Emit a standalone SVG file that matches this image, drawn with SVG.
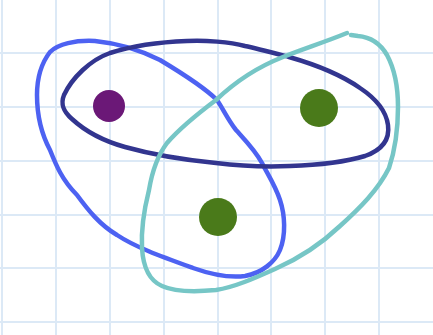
<svg xmlns="http://www.w3.org/2000/svg" width="433" height="335" viewBox="0 0 433 335">
<style>
.grid line{stroke:#dce9f6;stroke-width:2}
.loop{fill:none;stroke-width:4.5;stroke-linecap:round;stroke-linejoin:round}
</style>
<rect width="433" height="335" fill="#ffffff"/>
<g class="grid">
<line x1="2" y1="0" x2="2" y2="335"/><line x1="56" y1="0" x2="56" y2="335"/><line x1="110" y1="0" x2="110" y2="335"/><line x1="164" y1="0" x2="164" y2="335"/><line x1="218" y1="0" x2="218" y2="335"/><line x1="271" y1="0" x2="271" y2="335"/><line x1="325" y1="0" x2="325" y2="335"/><line x1="379" y1="0" x2="379" y2="335"/>
<line x1="0" y1="53" x2="433" y2="53"/><line x1="0" y1="107" x2="433" y2="107"/><line x1="0" y1="161" x2="433" y2="161"/><line x1="0" y1="215" x2="433" y2="215"/><line x1="0" y1="268" x2="433" y2="268"/><line x1="0" y1="322" x2="433" y2="322"/>
</g>
<g id="connectors">
<path class="loop" stroke="#4d62f2" d="M217,100 C205,88 185,75 160,60 C140,50 115,43 95,41 C75,40 58,44 50,52 C40,65 37,80 37,95 C37,115 42,135 50,150 C56,165 62,180 77,195 C88,210 100,225 117,235 C135,247 160,256 193,268 C210,274 230,278 245,276 C262,273 275,262 280,250 C286,235 285,215 280,200 C275,185 268,175 262,163 C255,150 245,140 236,130 C228,120 222,107 217,100 Z"/>
<path class="loop" stroke="#32358f" d="M245,46 C230,42 205,40 187,41 C160,42 135,45 110,53 C90,60 72,78 64,95 C60,105 64,112 72,119 C85,131 100,140 125,147 C150,154 185,160 216,163 C240,166 265,167 290,166 C320,165 345,162 365,156 C382,150 390,140 388,125 C386,110 375,98 360,88 C340,74 310,63 289,57 C270,52 255,48 245,46 Z"/>
<path class="loop" stroke="#76c6c6" d="M347,33 C325,42 300,50 283,57 C260,66 235,82 216,100 C200,112 180,128 167,143 C158,155 152,172 149,190 C144,210 141,230 142,248 C143,265 148,280 162,286 C175,292 195,292 216,290 C235,287 255,278 275,269 C300,258 320,245 340,226 C360,208 378,190 389,168 C395,150 398,128 398,107 C398,85 394,68 387,55 C380,43 370,37 358,36 L351,35"/>
</g>
<g id="dot-purple"><circle cx="109" cy="106" r="16" fill="#6b1877"/></g>
<g id="dot-green-right"><circle cx="319" cy="108" r="19" fill="#4a7a1a"/></g>
<g id="dot-green-bottom"><circle cx="218" cy="217" r="19" fill="#4a7a1a"/></g>
</svg>
